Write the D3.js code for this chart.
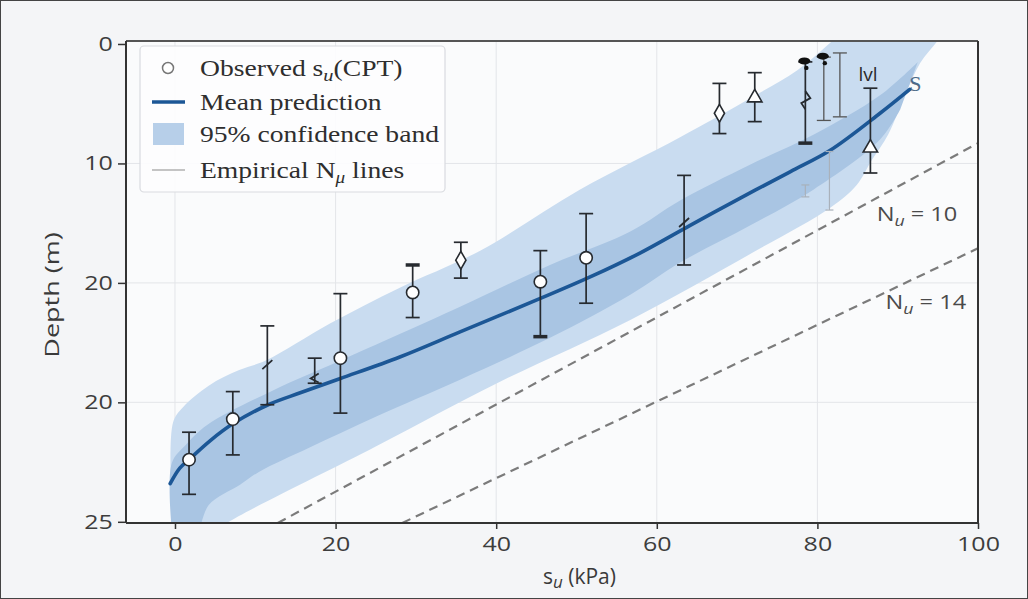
<!DOCTYPE html>
<html>
<head>
<meta charset="utf-8">
<script src="https://cdn.jsdelivr.net/npm/d3@7"></script>
<style>
  html, body { margin: 0; padding: 0; background: #f4f5f7; }
  svg { display: block; }
  .tick text { font-family: "Open Sans", sans-serif; font-size: 20px; fill: #3d3d3d; }
</style>
</head>
<body>
<div id="chart"></div>
<script>
// x axis: undrained shear strength s_u (kPa); y axis: depth, ticks relabelled as in the source
var xTicks = [0, 20, 40, 60, 80, 100];
var yTickValues = [0, 10, 20, 30, 40];
var yTickLabels = ['0', '10', '20', '20', '25'];

// mean prediction curve
var meanSu    = [-0.6, 0.6, 1.9, 4.4, 7.2, 11.6, 15.6, 20.6, 28.0, 35.5, 45.5, 51.7, 57.9, 64.1, 70.4, 76.6, 81.6, 87.8, 91.5];
var meanDepth = [36.8, 35.5, 34.7, 33.2, 31.8, 30.2, 29.2, 28.0, 26.2, 24.1, 21.3, 19.5, 17.5, 15.2, 12.9, 10.7, 8.9, 5.8, 3.8];

// 95% band, outer (light) edges
var outerUpSu    = [-0.25, -0.25, 1.0, 4.2, 8.0, 11.3, 19.3, 28.0, 38.0, 50.4, 62.9, 71.2, 77.5, 81.6, 83.4];
var outerUpDepth = [40.7, 31.7, 30.4, 28.6, 27.3, 26.5, 23.4, 20.4, 17.3, 12.2, 7.8, 4.7, 2.2, -0.1, -1.2];
var outerLoSu    = [95.9, 94.9, 92.8, 90.9, 88.8, 86.8, 84.9, 81.6, 72.9, 56.7, 40.1, 25.0, 6.0, 5.0];
var outerLoDepth = [-1.2, -0.2, 1.6, 4.3, 7.6, 9.7, 11.8, 13.7, 17.1, 23.1, 28.4, 33.7, 40.3, 40.9];

// inner (darker) band edges
var innerUpSu    = [-0.4, -0.4, 1.3, 4.0, 12.2, 20.6, 35.5, 46.7, 56.7, 62.9, 71.6, 79.5, 87.8, 92.5];
var innerUpDepth = [40.7, 35.1, 33.6, 31.9, 29.0, 26.5, 22.0, 18.5, 15.7, 13.1, 10.1, 7.6, 4.3, 1.5];
var innerLoSu    = [90.3, 87.8, 79.5, 71.6, 62.9, 56.7, 46.7, 35.5, 25.0, 16.7, 10.5, 8.1, 4.2, 3.1];
var innerLoDepth = [5.5, 8.0, 12.2, 15.2, 18.3, 21.0, 24.6, 28.1, 31.2, 33.8, 35.8, 36.9, 38.6, 40.7];

// empirical N_u lines (end points)
var nu10Su = [12.8, 100], nu10Depth = [40.1, 8.3];
var nu14Su = [28.3, 100], nu14Depth = [40.1, 17.1];
var nuLabels = ['10', '14'];
var nuLabelSu = [92.4, 93.5], nuLabelDepth = [14.2, 21.6];

// observed s_u from CPT with error bars
var obsSu     = [1.75, 7.2, 11.5, 17.4, 20.6, 29.6, 35.6, 45.5, 51.2, 63.4, 67.8, 72.2, 78.5, 80.8, 82.8, 86.6];
var obsDepth  = [34.8, 31.4, 26.8, 28.0, 26.3, 20.8, 18.1, 19.9, 17.9, 14.9, 5.8, 4.5, 4.7, null, null, 8.7];
var obsTop    = [32.5, 29.1, 23.6, 26.3, 20.9, 18.5, 16.6, 17.3, 14.2, 11.0, 3.3, 2.4, 1.5, 1.1, 0.75, 3.7];
var obsBottom = [37.7, 34.4, 30.2, 28.4, 30.9, 22.9, 19.6, 24.5, 21.7, 18.5, 7.5, 6.5, 8.3, 6.4, 6.1, 10.8];
var obsMarker = ['circle', 'circle', 'slash', 'lt', 'circle', 'circle', 'diamond', 'circle', 'circle', 'slash',
                 'diamond', 'triangle', 'zigzag', 'none', 'none', 'triangle'];
var obsThick  = ['', '', '', '', '', 'top', '', 'bottom', '', '', '', '', 'bottom', '', '', ''];
var obsBlob   = ['', '', '', '', '', '', '', '', '', '', '', '', 'top', 'top', '', ''];

// faint grey bars
var faintSu = [78.5, 81.5], faintTop = [11.8, 9.0], faintBottom = [12.8, 13.9];

// stray glyphs in the figure
var noteText = ['lvl', 'S'], noteSu = [86.3, 92.2], noteDepth = [2.5, 3.3];

var W = 1028, H = 599;
var margin = {top: 41, right: 50, bottom: 76, left: 126};
var width = W - margin.left - margin.right;
var height = H - margin.top - margin.bottom;

var svg = d3.select('#chart').append('svg')
    .attr('width', W)
    .attr('height', H);

svg.append('rect').attr('x', 0.5).attr('y', 0.5).attr('width', W - 1).attr('height', H - 1)
    .attr('fill', '#f4f5f7').attr('stroke', '#444').attr('stroke-width', 1);

var g = svg.append('g').attr('transform', 'translate(' + margin.left + ',' + margin.top + ')');

var x = d3.scaleLinear().domain([-6.1, 100]).range([0, width]);
var y = d3.scaleLinear().domain([-0.25, 40.1]).range([0, height]);

g.append('rect').attr('width', width).attr('height', height).attr('fill', '#fafbfc');

g.append('clipPath').attr('id', 'plot-clip')
    .append('rect').attr('width', width).attr('height', height);

// grid
g.append('g').selectAll('line').data(xTicks.slice(0, -1)).enter().append('line')
    .attr('x1', function(d) { return x(d); }).attr('x2', function(d) { return x(d); })
    .attr('y1', 0).attr('y2', height)
    .attr('stroke', '#e3e5e9').attr('stroke-width', 1);
g.append('g').selectAll('line').data(yTickValues.slice(1, -1)).enter().append('line')
    .attr('x1', 0).attr('x2', width)
    .attr('y1', function(d) { return y(d); }).attr('y2', function(d) { return y(d); })
    .attr('stroke', '#e3e5e9').attr('stroke-width', 1);

var plot = g.append('g').attr('clip-path', 'url(#plot-clip)');

function pts(a, b) { return a.map(function(v, i) { return [v, b[i]]; }); }

var smooth = d3.line()
    .x(function(d) { return x(d[0]); })
    .y(function(d) { return y(d[1]); })
    .curve(d3.curveCatmullRom.alpha(0.5));

// band = smoothed upper edge + smoothed lower edge, joined straight
function bandPath(up, lo) {
    return smooth(up) + 'L' + smooth(lo).slice(1) + 'Z';
}

plot.append('path')
    .attr('d', bandPath(pts(outerUpSu, outerUpDepth), pts(outerLoSu, outerLoDepth)))
    .attr('fill', '#c9dcf0');

plot.append('path')
    .attr('d', bandPath(pts(innerUpSu, innerUpDepth), pts(innerLoSu, innerLoDepth)))
    .attr('fill', '#a9c5e3');

// empirical lines
var straight = d3.line()
    .x(function(d) { return x(d[0]); })
    .y(function(d) { return y(d[1]); });

[pts(nu10Su, nu10Depth), pts(nu14Su, nu14Depth)].forEach(function(l) {
    plot.append('path').datum(l).attr('d', straight)
        .attr('fill', 'none').attr('stroke', '#7b7b7b')
        .attr('stroke-width', 2.2).attr('stroke-dasharray', '9,6');
});

nuLabels.forEach(function(lab, i) {
    var t = g.append('text')
        .attr('transform', 'translate(' + x(nuLabelSu[i]) + ',' + y(nuLabelDepth[i]) + ') scale(1.18,1)')
        .attr('text-anchor', 'middle').attr('dy', '0.35em')
        .style('font-family', '"Open Sans", sans-serif').style('font-size', '20px')
        .style('fill', '#4a4a4a');
    t.append('tspan').text('N');
    t.append('tspan').attr('dy', '5').style('font-size', '15px').style('font-style', 'italic').text('u');
    t.append('tspan').attr('dy', '-5').text(' = ' + lab);
});

// mean prediction
plot.append('path').datum(pts(meanSu, meanDepth)).attr('d', smooth)
    .attr('fill', 'none').attr('stroke', '#1c5796').attr('stroke-width', 3.6)
    .attr('stroke-linecap', 'round');

// faint bars
faintSu.forEach(function(s, i) {
    var fb = plot.append('g').attr('stroke', '#a9b1bb').attr('stroke-width', 1.2);
    fb.append('line').attr('x1', x(s)).attr('x2', x(s)).attr('y1', y(faintTop[i])).attr('y2', y(faintBottom[i]));
    fb.append('line').attr('x1', x(s) - 4).attr('x2', x(s) + 4).attr('y1', y(faintTop[i])).attr('y2', y(faintTop[i]));
    fb.append('line').attr('x1', x(s) - 4).attr('x2', x(s) + 4).attr('y1', y(faintBottom[i])).attr('y2', y(faintBottom[i]));
});

// custom marker shapes
var slashSym = { draw: function(c) { c.moveTo(-5, 5); c.lineTo(5, -4); } };
var ltSym = { draw: function(c) { c.moveTo(4, -5); c.lineTo(-4, 0); c.lineTo(4, 4); } };
var zigSym = { draw: function(c) { c.moveTo(0, -9); c.lineTo(5, -2); c.lineTo(-4, 3); c.lineTo(0, 9); } };

var marks = plot.append('g');
obsSu.forEach(function(s, i) {
    var cx = x(s);
    var isGrey = obsMarker[i] === 'none';
    var col = isGrey ? '#555' : '#262a2f';
    var sw = isGrey ? 1.3 : 1.7;
    var bar = marks.append('g').attr('stroke', col).attr('stroke-width', sw);
    bar.append('line').attr('x1', cx).attr('x2', cx).attr('y1', y(obsTop[i])).attr('y2', y(obsBottom[i]));
    [['top', obsTop[i]], ['bottom', obsBottom[i]]].forEach(function(c) {
        var thick = obsThick[i] === c[0];
        bar.append('line')
            .attr('x1', cx - 7).attr('x2', cx + 7)
            .attr('y1', y(c[1])).attr('y2', y(c[1]))
            .attr('stroke-width', thick ? 3.5 : sw);
    });
    if (obsBlob[i] === 'top') {
        marks.append('ellipse').attr('cx', cx - 1).attr('cy', y(obsTop[i]) - 1)
            .attr('rx', 6).attr('ry', 3.5).attr('fill', '#111');
        marks.append('circle').attr('cx', cx + 1).attr('cy', y(obsTop[i]) + 6)
            .attr('r', 2.2).attr('fill', '#111');
    }
    if (obsDepth[i] == null) return;
    var cy = y(obsDepth[i]);
    var m = obsMarker[i];
    if (m === 'circle' || m === 'diamond' || m === 'triangle') {
        var type = m === 'circle' ? d3.symbolCircle : (m === 'diamond' ? d3.symbolDiamond : d3.symbolTriangle);
        var size = m === 'circle' ? 120 : 90;
        marks.append('path')
            .attr('d', d3.symbol().type(type).size(size)())
            .attr('transform', 'translate(' + cx + ',' + cy + ')')
            .attr('fill', '#fff').attr('stroke', '#262a2f').attr('stroke-width', 1.6);
    } else {
        var sym = m === 'slash' ? slashSym : (m === 'lt' ? ltSym : zigSym);
        marks.append('path')
            .attr('d', d3.symbol().type(sym)())
            .attr('transform', 'translate(' + cx + ',' + cy + ')')
            .attr('fill', 'none').attr('stroke', '#262a2f').attr('stroke-width', 1.8);
    }
});

noteText.forEach(function(t, i) {
    g.append('text').attr('x', x(noteSu[i])).attr('y', y(noteDepth[i]))
        .attr('text-anchor', 'middle').attr('dy', '0.35em')
        .style('font-family', i === 1 ? '"Liberation Serif", serif' : '"Open Sans", sans-serif')
        .style('font-size', i === 1 ? '22px' : '19px')
        .style('fill', i === 1 ? '#4d6a88' : '#2a2a2a')
        .text(t);
});

// frame (top and right)
g.append('line').attr('x1', 0).attr('x2', width).attr('y1', 0).attr('y2', 0)
    .attr('stroke', '#555').attr('stroke-width', 2);
g.append('line').attr('x1', width).attr('x2', width).attr('y1', 0).attr('y2', height)
    .attr('stroke', '#333').attr('stroke-width', 2);

// axes
var xAxis = d3.axisBottom(x).tickValues(xTicks).tickSize(6).tickSizeOuter(0).tickPadding(8);
var yAxis = d3.axisLeft(y).tickValues(yTickValues).tickSize(8).tickSizeOuter(0).tickPadding(5)
    .tickFormat(function(d, i) { return yTickLabels[i]; });

var xg = g.append('g').attr('transform', 'translate(0,' + height + ')').call(xAxis);
var yg = g.append('g').call(yAxis);
[xg, yg].forEach(function(a) {
    a.select('.domain').attr('stroke', '#333').attr('stroke-width', 2);
    a.selectAll('.tick line').attr('stroke', '#333').attr('stroke-width', 1.5);
    a.selectAll('.tick text').attr('transform', 'scale(1.25,1)');
});
yg.selectAll('.tick text').attr('x', -10.5);
yg.select('.domain').attr('d', 'M0,0V' + height);
xg.select('.domain').attr('d', 'M0,0H' + width);

// axis titles
var xt = svg.append('text')
    .attr('x', margin.left + x(50) + 3).attr('y', 584)
    .attr('text-anchor', 'middle')
    .style('font-family', '"Open Sans", sans-serif').style('font-size', '21px').style('fill', '#3a3a3a');
xt.append('tspan').text('s');
xt.append('tspan').attr('dy', 4).style('font-size', '17px').style('font-style', 'italic').text('u');
xt.append('tspan').attr('dy', -4).text(' (kPa)');

svg.append('text')
    .attr('transform', 'translate(59,295) rotate(-90) scale(1.35,1)')
    .attr('text-anchor', 'middle')
    .style('font-family', '"Open Sans", sans-serif').style('font-size', '20px').style('fill', '#3a3a3a')
    .text('Depth (m)');

// legend
var legend = svg.append('g');
legend.append('rect').attr('x', 140).attr('y', 46).attr('width', 305).attr('height', 146)
    .attr('rx', 4).attr('fill', '#fdfdfe').attr('fill-opacity', 0.92)
    .attr('stroke', '#d9dbdf').attr('stroke-width', 1.2);

var legY = [68, 102, 134, 170];
legend.append('circle').attr('cx', 168).attr('cy', legY[0]).attr('r', 5.5)
    .attr('fill', '#fff').attr('stroke', '#777').attr('stroke-width', 1.5);
legend.append('line').attr('x1', 152).attr('x2', 185).attr('y1', legY[1]).attr('y2', legY[1])
    .attr('stroke', '#1c5796').attr('stroke-width', 3.5);
legend.append('rect').attr('x', 153).attr('y', legY[2] - 11).attr('width', 31).attr('height', 22)
    .attr('fill', '#b7cfe9');
legend.append('line').attr('x1', 152).attr('x2', 185).attr('y1', legY[3]).attr('y2', legY[3])
    .attr('stroke', '#b0b0b0').attr('stroke-width', 1.5);

function legText(i) {
    return legend.append('text')
        .attr('transform', 'translate(200,' + legY[i] + ') scale(1.2,1)')
        .attr('dy', '0.33em')
        .style('font-family', '"Liberation Serif", "DejaVu Serif", serif')
        .style('font-size', '23px').style('fill', '#2e2e2e');
}
var l0 = legText(0);
l0.append('tspan').text('Observed s');
l0.append('tspan').attr('dy', 5).style('font-size', '17px').style('font-style', 'italic').text('u');
l0.append('tspan').attr('dy', -5).text('(CPT)');
legText(1).text('Mean prediction');
legText(2).text('95% confidence band');
var l3 = legText(3);
l3.append('tspan').text('Empirical N');
l3.append('tspan').attr('dy', 5).style('font-size', '16px').style('font-style', 'italic').text('μ');
l3.append('tspan').attr('dy', -5).text(' lines');
</script>
</body>
</html>
